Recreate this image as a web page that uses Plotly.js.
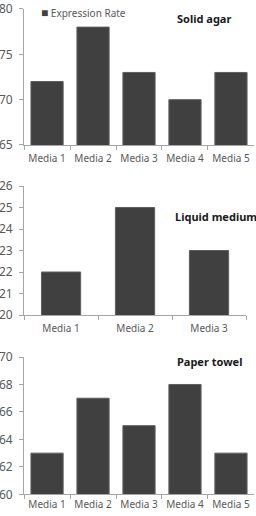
<!DOCTYPE html>
<html><head><meta charset="utf-8">
<script src="https://cdn.plot.ly/plotly-3.0.1.min.js"></script>
<style>html,body{margin:0;padding:0;background:#fff}#c{width:256px;height:516px}</style>
</head><body><div id="c"></div>
<script>
const cats5 = ["Media 1","Media 2","Media 3","Media 4","Media 5"];
const cats3 = ["Media 1","Media 2","Media 3"];
const solidAgar = [72,78,73,70,73];
const liquidMedium = [22,25,23];
const paperTowel = [63,67,65,68,63];
const panelTitles = ["Solid agar","Liquid medium","Paper towel"];
const seriesName = "Expression Rate";

const barColor = "#404040";
const lineC = "#a6a6a6";
const txtC = "#595959";
const font = "Noto Sans, Open Sans, sans-serif";

function bar(x,y,xa,ya,w){
  return {type:"bar",x:x,y:y,xaxis:xa,yaxis:ya,width:w,name:seriesName,showlegend:false,
    marker:{color:barColor,line:{color:"#5e5e5e",width:1}},hoverinfo:"skip"};
}
const data = [
  bar(cats5,solidAgar,"x","y",0.7),
  bar(cats3,liquidMedium,"x2","y2",0.53),
  bar(cats5,paperTowel,"x3","y3",0.7)
];
function xax(dom){return {domain:dom,showline:true,linecolor:lineC,linewidth:1,ticks:"outside",tickson:"boundaries",ticklen:4,tickcolor:lineC,showgrid:false,tickangle:0,ticklabelstandoff:4,tickfont:{size:10,color:txtC,family:font},fixedrange:true};}
function yax(dom,r,d){return {domain:dom,range:r,dtick:d,showline:true,linecolor:lineC,linewidth:1,ticks:"outside",ticklen:4,tickcolor:lineC,showgrid:false,zeroline:false,ticklabelstandoff:4,tickfont:{size:12,color:txtC,family:font},fixedrange:true};}
function ttl(i,x,y){return {text:"<b>"+panelTitles[i]+"</b>",xref:"paper",yref:"paper",x:x/256,y:1-y/516,xanchor:"center",yanchor:"middle",showarrow:false,font:{size:11,color:"#1a1a1a",family:font}};}
const layout = {
  width:256,height:516,margin:{l:0,r:0,t:0,b:0},
  paper_bgcolor:"#fff",plot_bgcolor:"#fff",
  font:{family:font,color:txtC},
  xaxis:Object.assign(xax([0.094,0.992]),{anchor:"y"}),
  yaxis:Object.assign(yax([0.719,0.9826],[65,80],5),{anchor:"x"}),
  xaxis2:Object.assign(xax([0.094,0.961]),{anchor:"y2"}),
  yaxis2:Object.assign(yax([0.3895,0.6395],[20,26],1),{anchor:"x2"}),
  xaxis3:Object.assign(xax([0.094,0.992]),{anchor:"y3",ticklabelstandoff:1}),
  yaxis3:Object.assign(yax([0.042,0.3081],[60,70],2),{anchor:"x3"}),
  showlegend:false,
  annotations:[
    {text:'<span style="color:'+barColor+';font-size:12px">■</span> '+seriesName,xref:"paper",yref:"paper",x:39/256,y:1-12/516,xanchor:"left",yanchor:"middle",showarrow:false,font:{size:10,color:txtC,family:font}},
    ttl(0,204,19),ttl(1,216,216),ttl(2,209,361)
  ]
};
Plotly.newPlot("c",data,layout,{displayModeBar:false,staticPlot:true});
</script></body></html>
